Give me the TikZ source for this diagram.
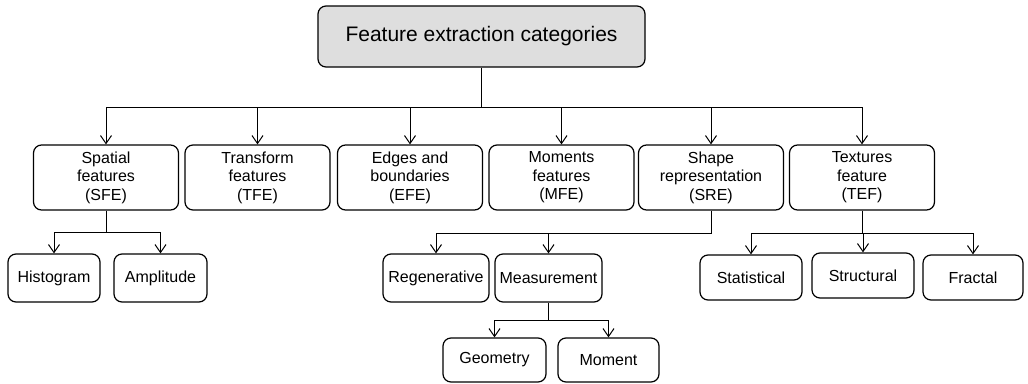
\documentclass[tikz,border=0pt]{standalone}
\usepackage{fontspec}
\setmainfont{Liberation Sans}
\usetikzlibrary{arrows.meta}
\definecolor{rootfill}{RGB}{222,222,222}
\begin{document}
\begin{tikzpicture}[x=1pt,y=-1pt,
  box/.style={draw=black,line width=1.2pt,rounded corners=8pt,inner sep=0pt,
    align=center,font=\fontsize{16}{18.6}\selectfont},
  cat/.style={box,minimum width=145pt,minimum height=65pt},
  leaf/.style={box,minimum height=48pt},
  arr/.style={line width=1pt,-{Straight Barb[length=8pt,width=11pt,line width=1pt]}},
  ln/.style={line width=1pt}]
\useasboundingbox (0,0) rectangle (1028,383);
\node[box,fill=rootfill,minimum width=327pt,minimum height=61pt,font=\fontsize{21}{24}\selectfont] (root) at (481.5,36.5) {Feature extraction categories};
\node[cat] (sfe) at (106,177.5) {Spatial\\features\\(SFE)};
\node[cat] (tfe) at (257.5,177.5) {Transform\\features\\(TFE)};
\node[cat] (efe) at (410,177.5) {Edges and\\boundaries\\(EFE)};
\node[cat] (mfe) at (561.5,177.5) {Moments\\features\\(MFE)};
\node[cat] (sre) at (711,177.5) {Shape\\representation\\(SRE)};
\node[cat] (tef) at (862,177.5) {Textures\\feature\\(TEF)};
\node[leaf,minimum width=92pt] (hist) at (54,278) {Histogram};
\node[leaf,minimum width=93pt] (ampl) at (160.5,278) {Amplitude};
\node[leaf,minimum width=106pt] (regen) at (436,278) {Regenerative};
\node[leaf,minimum width=107pt] (meas) at (548.5,278) {Measurement};
\node[box,minimum width=103pt,minimum height=44pt] (geom) at (494.5,360) {Geometry};
\node[box,minimum width=101pt,minimum height=44pt] (mom) at (608.5,360) {Moment};
\node[box,minimum width=102pt,minimum height=45pt] (stat) at (751,277.5) {Statistical};
\node[box,minimum width=102pt,minimum height=45pt] (struc) at (863,275.5) {Structural};
\node[box,minimum width=100pt,minimum height=45pt] (frac) at (973,277.5) {Fractal};
% level 1 bus
\coordinate (b0) at (481.5,107);
\draw[ln] (root.south) -- (b0);
\draw[ln] (sfe.north |- b0) -- (tef.north |- b0);
\foreach \n in {sfe,tfe,efe,mfe,sre,tef} \draw[arr] (\n.north |- b0) -- (\n.north);
% SFE
\coordinate (b1) at (106,232);
\draw[ln] (sfe.south) -- (b1);
\draw[ln] (hist.north |- b1) -- (ampl.north |- b1);
\foreach \n in {hist,ampl} \draw[arr] (\n.north |- b1) -- (\n.north);
% SRE
\coordinate (b2) at (711,233);
\draw[ln] (sre.south) -- (b2) -- (regen.north |- b2);
\foreach \n in {regen,meas} \draw[arr] (\n.north |- b2) -- (\n.north);
% Measurement
\coordinate (b3) at (548.5,320);
\draw[ln] (meas.south) -- (b3);
\draw[ln] (geom.north |- b3) -- (mom.north |- b3);
\foreach \n in {geom,mom} \draw[arr] (\n.north |- b3) -- (\n.north);
% TEF
\coordinate (b4) at (862,233);
\draw[ln] (tef.south) -- (b4);
\draw[ln] (stat.north |- b4) -- (frac.north |- b4);
\foreach \n in {stat,struc,frac} \draw[arr] (\n.north |- b4) -- (\n.north);
\end{tikzpicture}
\end{document}
